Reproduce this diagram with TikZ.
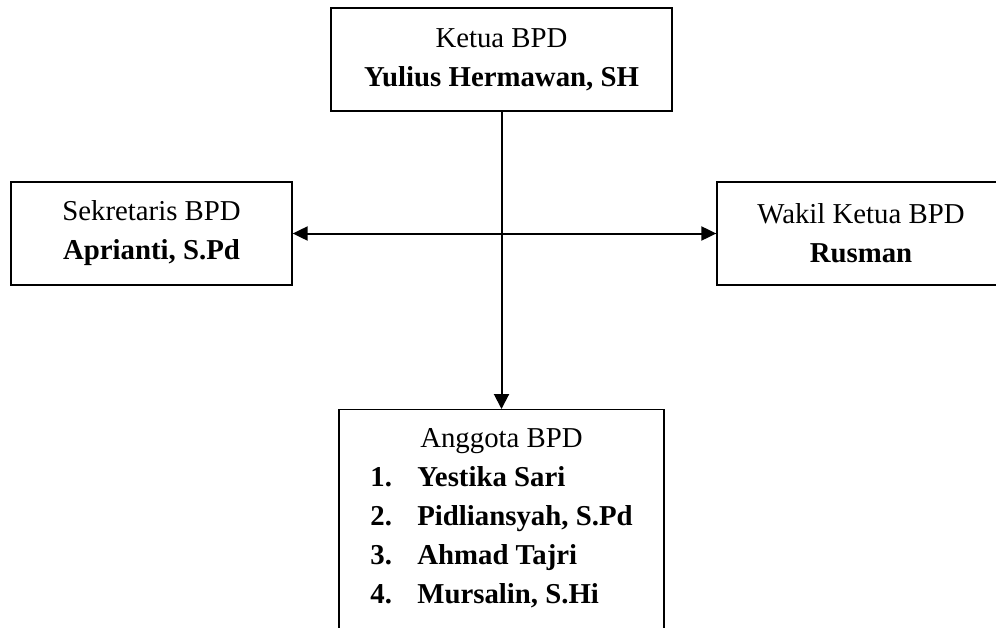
\documentclass[tikz,border=0pt]{standalone}
\usepackage{fontspec}
\setmainfont{Liberation Serif}
\usetikzlibrary{arrows.meta}
\tikzset{
  box/.style={draw, line width=1.3pt, inner sep=0pt, align=center,
    font=\fontsize{28.8}{39}\selectfont},
  txt/.style={inner sep=0pt, font=\fontsize{28.8}{39}\selectfont},
  conn/.style={line width=2pt, -{Triangle[length=15pt,width=15pt]}},
  conn2/.style={line width=2pt, {Triangle[length=15pt,width=14pt]}-{Triangle[length=15pt,width=14pt]}}
}
\begin{document}
\begin{tikzpicture}[x=1pt,y=-1pt]
\useasboundingbox (0,0) rectangle (996,627);
\clip (0,0) rectangle (996,627);
\fill[white] (0,0) rectangle (996,627);
\node[box, minimum width=341pt, minimum height=103pt] (ketua) at (501.5,59.5)
  {Ketua BPD\\\textbf{Yulius Hermawan, SH}};
\node[box, minimum width=281pt, minimum height=103pt] (sekretaris) at (151.5,233.5)
  {Sekretaris BPD\\\textbf{Aprianti, S.Pd}};
\node[box, minimum width=288pt, minimum height=103pt] (wakil) at (861,233.5)
  {Wakil Ketua BPD\\\textbf{Rusman}};
\node[box, minimum width=325pt, minimum height=260pt, anchor=north] (anggota) at (501.5,409) {};
\node[txt, anchor=north] (anggotatext) at (501.5,419.7)
  {\begin{tabular}{@{}p{47pt}@{}l@{}}
   \multicolumn{2}{c}{Anggota BPD}\\
   \textbf{1.} & \textbf{Yestika Sari}\\
   \textbf{2.} & \textbf{Pidliansyah, S.Pd}\\
   \textbf{3.} & \textbf{Ahmad Tajri}\\
   \textbf{4.} & \textbf{Mursalin, S.Hi}
   \end{tabular}};
\draw[conn] (ketua.south) -- (anggota.north);
\draw[conn2] (sekretaris.east) -- (wakil.west);
\end{tikzpicture}
\end{document}
